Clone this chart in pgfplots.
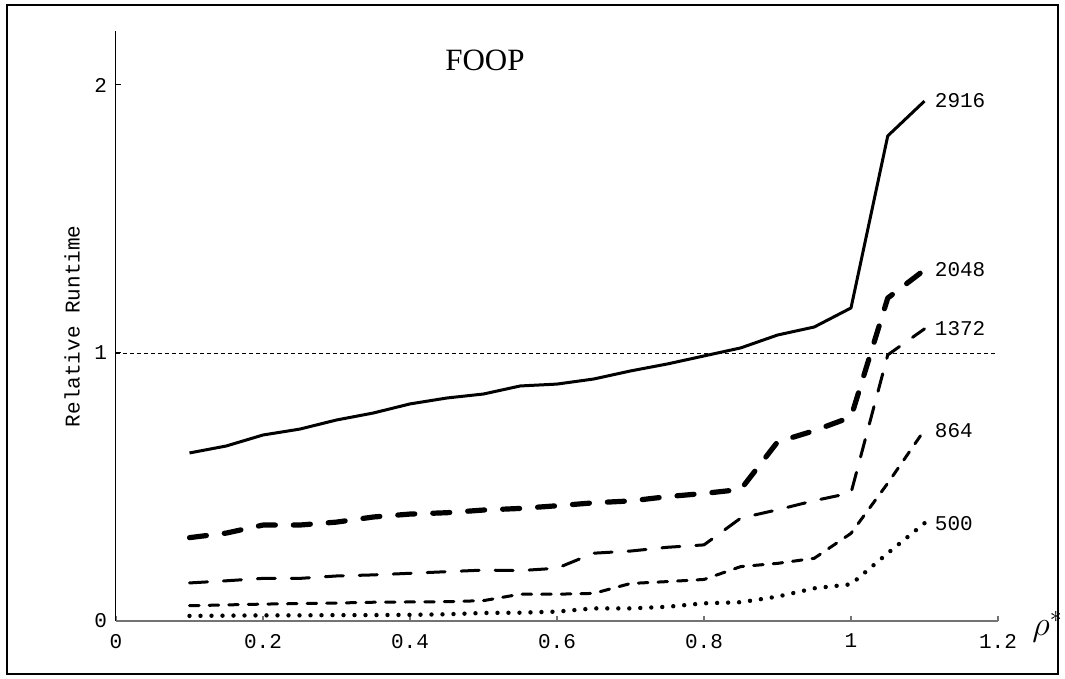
\documentclass[border=0pt]{standalone}
\usepackage{fontspec}
\setmainfont{Liberation Serif}
\setmonofont{Liberation Mono}
\usepackage{pgfplots}
\pgfplotsset{compat=1.18}
\newcommand\tfont{\ttfamily\fontsize{10.5}{12}\selectfont}
\begin{document}
\begin{tikzpicture}
\begin{axis}[
  at={(0,0)}, anchor=south west,
  scale only axis, width=441pt, height=294.8pt,
  xmin=0, xmax=1.2, ymin=0, ymax=2.2,
  axis lines=left,
  axis line style={-},
  x axis line style={draw=black!55, line width=0.75pt},
  y axis line style={draw=black, line width=0.5pt},
  tick align=inside,
  major tick length=2.5pt,
  xtick={0,0.2,0.4,0.6,0.8,1,1.2},
  ytick={0,1,2},
  xtick style={draw=black!55, line width=0.6pt},
  ytick style={draw=black, line width=0.5pt},
  /pgf/number format/assume math mode=true,
  ticklabel style={font=\tfont},
  xticklabel style={yshift=-3pt},
  yticklabel style={xshift=-1pt},
  xlabel={$\rho^*$},
  every axis x label/.style={at={(axis description cs:1,0)}, anchor=west, xshift=17pt, yshift=-3pt, inner sep=0pt, font=\fontsize{17}{20}\selectfont},
  ylabel={Relative Runtime},
  every axis y label/.style={at={(axis description cs:0,0.5)}, rotate=90, anchor=center, yshift=22pt, font=\tfont},
  clip=false,
]
\addplot[black, line width=0.4pt, dash pattern=on 2pt off 1.5pt] coordinates {(0,1) (1.2,1)};

\addplot[black, line width=1.5pt, line join=round] coordinates {
(0.1,0.627) (0.15,0.653) (0.2,0.694) (0.25,0.716) (0.3,0.750) (0.35,0.776) (0.4,0.810) (0.45,0.832) (0.5,0.847) (0.55,0.877) (0.6,0.884) (0.65,0.903) (0.7,0.933) (0.75,0.959) (0.8,0.989) (0.85,1.019) (0.9,1.067) (0.95,1.097) (1.0,1.168) (1.05,1.810) (1.1,1.940)};

\addplot[black, line width=2.6pt, line cap=round, line join=round, dash pattern=on 8.5pt off 9pt] coordinates {
(0.1,0.311) (0.15,0.328) (0.2,0.358) (0.25,0.358) (0.3,0.369) (0.35,0.388) (0.4,0.399) (0.45,0.404) (0.5,0.414) (0.55,0.420) (0.6,0.430) (0.65,0.441) (0.7,0.448) (0.75,0.464) (0.8,0.476) (0.85,0.491) (0.9,0.668) (0.95,0.710) (1.0,0.761) (1.05,1.205) (1.1,1.310)};

\addplot[black, line width=1.5pt, line cap=round, line join=round, dash pattern=on 9pt off 8pt] coordinates {
(0.1,0.142) (0.15,0.150) (0.2,0.159) (0.25,0.159) (0.3,0.168) (0.35,0.172) (0.4,0.178) (0.45,0.184) (0.5,0.190) (0.55,0.188) (0.6,0.197) (0.65,0.253) (0.7,0.261) (0.75,0.275) (0.8,0.284) (0.85,0.384) (0.9,0.415) (0.95,0.449) (1.0,0.478) (1.05,0.993) (1.1,1.090)};

\addplot[black, line width=1.5pt, line cap=round, line join=round, dash pattern=on 4.8pt off 5pt] coordinates {
(0.1,0.057) (0.15,0.060) (0.2,0.063) (0.25,0.065) (0.3,0.067) (0.35,0.070) (0.4,0.071) (0.45,0.072) (0.5,0.076) (0.55,0.100) (0.6,0.100) (0.65,0.103) (0.7,0.140) (0.75,0.147) (0.8,0.155) (0.85,0.203) (0.9,0.215) (0.95,0.234) (1.0,0.327) (1.05,0.514) (1.1,0.713)};

\addplot[black, line width=2.2pt, line cap=round, line join=round, dash pattern=on 0pt off 5.5pt] coordinates {
(0.1,0.019) (0.15,0.020) (0.2,0.021) (0.25,0.021) (0.3,0.022) (0.35,0.022) (0.4,0.023) (0.45,0.025) (0.5,0.030) (0.55,0.031) (0.6,0.035) (0.65,0.047) (0.7,0.047) (0.75,0.053) (0.8,0.066) (0.85,0.070) (0.9,0.091) (0.95,0.122) (1.0,0.137) (1.05,0.253) (1.1,0.365)};

\node[font=\tfont, anchor=west, inner sep=0pt, xshift=5pt] at (axis cs:1.1,1.94) {2916};
\node[font=\tfont, anchor=west, inner sep=0pt, xshift=5pt] at (axis cs:1.1,1.31) {2048};
\node[font=\tfont, anchor=west, inner sep=0pt, xshift=5pt] at (axis cs:1.1,1.09) {1372};
\node[font=\tfont, anchor=west, inner sep=0pt, xshift=5pt] at (axis cs:1.1,0.71) {864};
\node[font=\tfont, anchor=west, inner sep=0pt, xshift=5pt] at (axis cs:1.1,0.365) {500};
\node[font=\fontsize{15.5}{18}\selectfont] at (axis cs:0.502,2.09) {FOOP};
\end{axis}
\draw[line width=1pt] (-54.5pt,-26.5pt) rectangle (471pt,308pt);
\pgfresetboundingbox
\useasboundingbox (-58pt,-29pt) rectangle (474.5pt,310.5pt);
\end{tikzpicture}
\end{document}
